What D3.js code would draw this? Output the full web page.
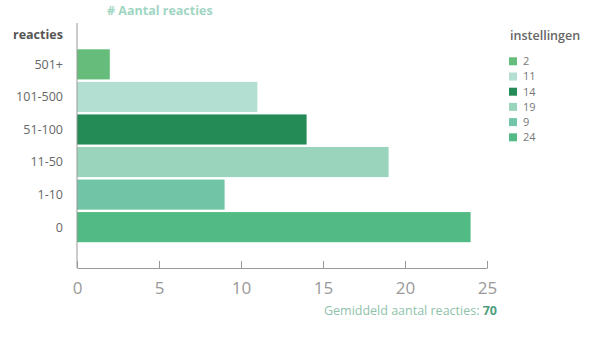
<!DOCTYPE html>
<html><head><meta charset="utf-8">
<script src="https://cdn.jsdelivr.net/npm/d3@7"></script>
<style>body{margin:0;background:#fff;} svg{display:block;font-family:"Open Sans",sans-serif;}</style>
</head><body>
<svg id="c" width="595" height="342"></svg>
<script>
const categories = ["501+", "101-500", "51-100", "11-50", "1-10", "0"];
const values = [2, 11, 14, 19, 9, 24];
const colors = ["#66bd7b", "#b3dfd3", "#248a56", "#9bd4bc", "#72c4a6", "#52bb85"];
const xTicks = [0, 5, 10, 15, 20, 25];
const average = 70;

const svg = d3.select("#c");
const x = d3.scaleLinear().domain([0, 25]).range([77, 487]);
const y = d3.scaleBand().domain(categories).range([48, 243.5]).paddingInner(0.075).paddingOuter(0.04);

// bars
svg.selectAll("rect.bar").data(values).join("rect")
  .attr("class", "bar")
  .attr("x", x(0))
  .attr("y", (d, i) => y(categories[i]))
  .attr("width", d => x(d) - x(0))
  .attr("height", y.bandwidth())
  .attr("fill", (d, i) => colors[i]);

// y axis line
svg.append("line").attr("x1", x(0)).attr("x2", x(0)).attr("y1", 23).attr("y2", 268)
  .attr("stroke", "#999").attr("stroke-width", 1);

// x axis
const xa = svg.append("g").attr("transform", "translate(0,268)")
  .call(d3.axisBottom(x).tickValues(xTicks).tickSizeInner(-7).tickSizeOuter(0).tickPadding(14));
xa.select(".domain").attr("stroke", "#999");
xa.selectAll(".tick line").attr("stroke", "#999");
xa.selectAll(".tick text").attr("fill", "#999").attr("font-size", 17).attr("font-family", "Open Sans, sans-serif");

// y labels
svg.selectAll("text.ylab").data(categories).join("text")
  .attr("class", "ylab")
  .attr("x", 63).attr("y", d => y(d) + y.bandwidth() / 2)
  .attr("dy", "0.35em").attr("text-anchor", "end")
  .attr("font-size", 12.5).attr("fill", "#666").text(d => d);

// titles
svg.append("text").attr("x", 107).attr("y", 15).attr("font-size", 12.5).attr("font-weight", "bold")
  .attr("fill", "#9fd6c3").text("# Aantal reacties");
svg.append("text").attr("x", 13).attr("y", 39).attr("font-size", 12.5).attr("font-weight", "bold")
  .attr("fill", "#555").text("reacties");

// legend
svg.append("text").attr("x", 510).attr("y", 40).attr("font-size", 12.5).attr("font-weight", 600)
  .attr("fill", "#666").text("instellingen");
const lg = svg.selectAll("g.lg").data(values).join("g").attr("class", "lg")
  .attr("transform", (d, i) => `translate(509,${61.3 + i * 15.2})`);
lg.append("rect").attr("x", 0).attr("y", -4).attr("width", 8).attr("height", 8)
  .attr("fill", (d, i) => colors[i]);
lg.append("text").attr("x", 14).attr("y", 0).attr("dy", "0.35em")
  .attr("font-size", 11).attr("fill", "#777").text(d => d);

// footer
const ft = svg.append("text").attr("x", 497).attr("y", 315).attr("text-anchor", "end")
  .attr("font-size", 12.5).attr("fill", "#8fc2ab");
ft.append("tspan").text("Gemiddeld aantal reacties: ");
ft.append("tspan").attr("font-weight", "bold").attr("fill", "#4f9e7c").text(average);
</script>
</body></html>
